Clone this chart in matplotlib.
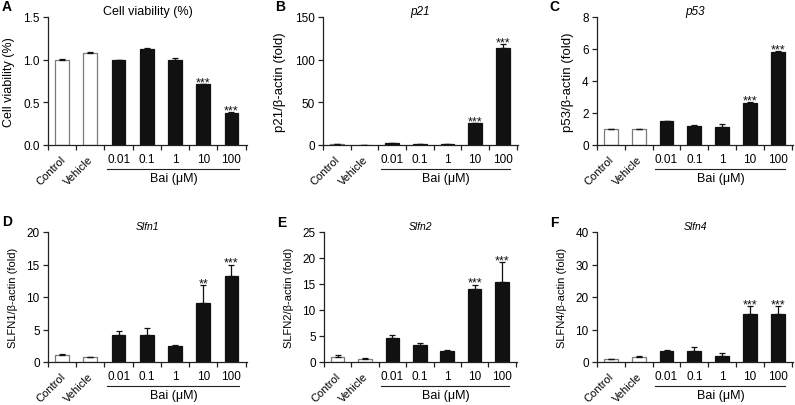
import matplotlib
matplotlib.use("Agg")
import matplotlib.pyplot as plt
import matplotlib.transforms as mtransforms
import numpy as np

plt.rcParams['font.family'] = ['Liberation Sans', 'DejaVu Sans']
plt.rcParams['font.size'] = 8

# data
groups = ['Control', 'Vehicle', '0.01', '0.1', '1', '10', '100']

viab = [1.0, 1.08, 1.0, 1.13, 1.0, 0.71, 0.38]
viab_err = [0.01, 0.01, 0.0, 0.01, 0.02, 0.0, 0.01]
viab_sig = ['', '', '', '', '', '***', '***']

p21 = [1.0, 0.3, 2.0, 1.0, 1.5, 26.0, 114.0]
p21_err = [0.0, 0.0, 0.0, 0.0, 0.0, 0.0, 4.5]
p21_sig = ['', '', '', '', '', '***', '***']

p53 = [1.0, 1.0, 1.5, 1.2, 1.15, 2.63, 5.8]
p53_err = [0.03, 0.03, 0.03, 0.03, 0.15, 0.04, 0.06]
p53_sig = ['', '', '', '', '', '***', '***']

slfn1 = [1.1, 0.8, 4.1, 4.1, 2.4, 9.1, 13.3]
slfn1_err = [0.1, 0.0, 0.6, 1.1, 0.2, 2.8, 1.7]
slfn1_sig = ['', '', '', '', '', '**', '***']

slfn2 = [1.0, 0.55, 4.6, 3.2, 2.1, 14.0, 15.3]
slfn2_err = [0.35, 0.2, 0.5, 0.5, 0.15, 0.9, 3.9]
slfn2_sig = ['', '', '', '', '', '***', '***']

slfn4 = [0.9, 1.4, 3.4, 3.5, 2.0, 14.8, 14.8]
slfn4_err = [0.0, 0.6, 0.3, 1.0, 0.8, 2.5, 2.5]
slfn4_sig = ['', '', '', '', '', '***', '***']

W, H = 795, 406
fig = plt.figure(figsize=(W / 100, H / 100), dpi=100)

axis_col = '#222222'


def px_axes(left, right, top, bottom):
    return fig.add_axes([left / W, 1 - bottom / H, (right - left) / W, (bottom - top) / H])


def panel(ax, vals, errs, sigs, ymax, yticks, yfmt, ylabel, title, italic, lab_fs, title_fs,
          letter, letter_xy):
    x = np.arange(len(vals))
    face = ['white', 'white'] + ['#111111'] * 5
    edge = ['#7a7a7a', '#7a7a7a'] + ['#111111'] * 5
    ax.bar(x, vals, width=0.49, color=face, edgecolor=edge, linewidth=0.9, zorder=2)
    ax.errorbar(x, vals, yerr=[np.zeros(len(errs)), errs], fmt='none', ecolor='#111111',
                elinewidth=0.9, capsize=2.5, capthick=0.9, zorder=3)
    for xi, v, e, s in zip(x, vals, errs, sigs):
        if s:
            ax.annotate(s, (xi, v + e), xytext=(0, -1.0), textcoords='offset points',
                        ha='center', va='baseline', fontsize=9, color='#111111')
    ax.set_xlim(-0.5, 6.55)
    ax.set_ylim(0, ymax)
    ax.set_yticks(yticks)
    ax.set_yticklabels([yfmt.format(t) for t in yticks])
    for s in ['top', 'right']:
        ax.spines[s].set_visible(False)
    for s in ['left', 'bottom']:
        ax.spines[s].set_color(axis_col)
        ax.spines[s].set_linewidth(0.9)
    ax.tick_params(axis='y', direction='out', length=3.5, width=0.9, color=axis_col, pad=2.5,
                   labelsize=8.5)
    ax.set_xticks(x)
    ax.set_xticklabels(groups)
    ax.set_xticks(np.arange(-0.5, 7.0, 1.0), minor=True)
    ax.tick_params(axis='x', which='major', length=0, pad=6, labelsize=8.5)
    ax.tick_params(axis='x', which='minor', direction='out', length=3.5, width=0.9, color=axis_col)
    shift = mtransforms.ScaledTranslation(5 / 100, 0, fig.dpi_scale_trans)
    for lbl in ax.get_xticklabels()[:2]:
        lbl.set_rotation(45)
        lbl.set_ha('right')
        lbl.set_va('top')
        lbl.set_fontsize(8)
        lbl.set_transform(lbl.get_transform() + shift)
    # Bai bracket line and label
    down = mtransforms.ScaledTranslation(0, -24 / 100, fig.dpi_scale_trans)
    ax.plot([1.58, 6.25], [0, 0], color=axis_col, lw=0.8,
            transform=ax.get_xaxis_transform() + down, clip_on=False)
    down2 = mtransforms.ScaledTranslation(0, -33 / 100, fig.dpi_scale_trans)
    ax.text(3.95, 0, 'Bai (\u03bcM)', ha='center', va='center', fontsize=9,
            transform=ax.get_xaxis_transform() + down2)
    ax.set_ylabel(ylabel, fontsize=lab_fs, labelpad=6)
    # title
    up = mtransforms.ScaledTranslation(0, 6 / 100, fig.dpi_scale_trans)
    ax.text(0.5, 1.0, title, ha='center', va='center', fontsize=title_fs,
            style='italic' if italic else 'normal', transform=ax.transAxes + up)
    fig.text(letter_xy[0] / W, 1 - letter_xy[1] / H, letter, fontsize=10, fontweight='bold',
             ha='center', va='center')


axA = px_axes(48, 247, 18, 146)
panel(axA, viab, viab_err, viab_sig, 1.5, [0, 0.5, 1.0, 1.5], '{:.1f}', 'Cell viability (%)',
      'Cell viability (%)', False, 9, 9, 'A', (7, 7))

axB = px_axes(323, 518, 18, 146)
panel(axB, p21, p21_err, p21_sig, 150, [0, 50, 100, 150], '{:.0f}', 'p21/\u03b2-actin (fold)',
      'p21', True, 9.5, 8.5, 'B', (280, 7))

axC = px_axes(597, 793, 18, 146)
panel(axC, p53, p53_err, p53_sig, 8, [0, 2, 4, 6, 8], '{:.0f}', 'p53/\u03b2-actin (fold)',
      'p53', True, 9.5, 8.5, 'C', (554, 7))

axD = px_axes(48, 247, 233, 363)
panel(axD, slfn1, slfn1_err, slfn1_sig, 20, [0, 5, 10, 15, 20], '{:.0f}', 'SLFN1/\u03b2-actin (fold)',
      'Slfn1', True, 8, 7.5, 'D', (7, 222))

axE = px_axes(324, 517, 233, 363)
panel(axE, slfn2, slfn2_err, slfn2_sig, 25, [0, 5, 10, 15, 20, 25], '{:.0f}', 'SLFN2/\u03b2-actin (fold)',
      'Slfn2', True, 8, 7.5, 'E', (282, 223))

axF = px_axes(597, 793, 233, 363)
panel(axF, slfn4, slfn4_err, slfn4_sig, 40, [0, 10, 20, 30, 40], '{:.0f}', 'SLFN4/\u03b2-actin (fold)',
      'Slfn4', True, 8, 7.5, 'F', (554, 223))

fig.savefig('out.png', dpi=100)
